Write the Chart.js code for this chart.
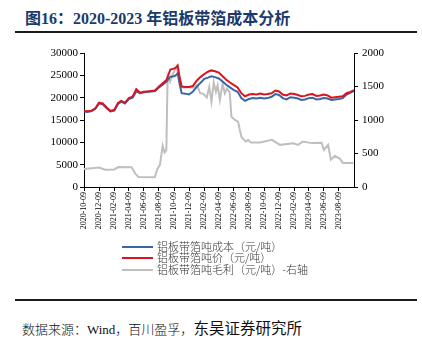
<!DOCTYPE html>
<html><head><meta charset="utf-8">
<script src="https://cdn.jsdelivr.net/npm/chart.js@4"></script>
<style>
body{margin:0;width:422px;height:341px;background:#fff;position:relative;overflow:hidden;font-family:"Liberation Serif","Noto Sans CJK SC",serif;}
#title{position:absolute;left:25px;top:5px;font-size:16px;font-weight:bold;color:#1b3a6b;white-space:nowrap;font-family:"Liberation Serif","Noto Sans CJK SC",serif;}
.rule{position:absolute;left:15px;width:402px;background:#1a1a1a;}
#wrap{position:absolute;left:0;top:0;width:422px;height:240px;}
.leg{position:absolute;left:122px;height:12px;font-size:11px;line-height:12px;color:#333;font-weight:300;white-space:nowrap;font-family:"Noto Sans CJK SC",sans-serif;}
.leg i{position:absolute;left:0;top:5px;width:31px;height:2px;}
.leg span{position:absolute;left:35px;top:-1px;}
#foot{position:absolute;left:22px;top:316px;font-size:13px;color:#111;white-space:nowrap;font-family:"Liberation Serif","Noto Sans CJK SC",serif;}
#foot .s{font-weight:300;}
#foot b{font-weight:normal;font-size:15.5px;font-family:"Noto Sans CJK SC",sans-serif;}
</style></head>
<body>
<div id="title">图16：2020-2023 年铝板带箔成本分析</div>
<div class="rule" style="top:31px;height:2px;"></div>
<div id="wrap"><canvas id="c" width="422" height="240"></canvas></div>
<div class="leg" style="top:241px;"><i style="background:#3b66a6"></i><span>铝板带箔吨成本（元/吨）</span></div>
<div class="leg" style="top:252px;"><i style="background:#d9141e"></i><span>铝板带箔吨价（元/吨）</span></div>
<div class="leg" style="top:264px;"><i style="background:#bfbfbf"></i><span>铝板带箔吨毛利（元/吨）-右轴</span></div>
<div class="rule" style="top:299px;height:2px;"></div>
<div id="foot"><span class="s">数据来源：Wind，百川盈孚，</span><b>东吴证券研究所</b></div>
<script>
const tickLabels = ['2020-10-09','2020-12-09','2021-02-09','2021-04-09','2021-06-09','2021-08-09','2021-10-09','2021-12-09','2022-02-09','2022-04-09','2022-06-09','2022-08-09','2022-10-09','2022-12-09','2023-02-09','2023-04-09','2023-06-09','2023-08-09'];
const priceDates = ['2020-10-09','2020-10-24','2020-11-09','2020-11-24','2020-12-09','2020-12-24','2021-01-09','2021-01-24','2021-02-09','2021-02-24','2021-03-09','2021-03-24','2021-04-09','2021-04-24','2021-05-09','2021-05-24','2021-06-09','2021-06-24','2021-07-09','2021-07-24','2021-08-09','2021-08-24','2021-09-09','2021-09-24','2021-10-09','2021-10-16','2021-10-24','2021-11-01','2021-11-09','2021-11-24','2021-12-09','2021-12-24','2022-01-09','2022-01-24','2022-02-09','2022-02-24','2022-03-09','2022-03-24','2022-04-09','2022-04-24','2022-05-09','2022-05-24','2022-06-09','2022-06-24','2022-07-09','2022-07-24','2022-08-09','2022-08-24','2022-09-09','2022-09-24','2022-10-09','2022-10-24','2022-11-09','2022-11-24','2022-12-09','2022-12-24','2023-01-09','2023-01-24','2023-02-09','2023-02-24','2023-03-09','2023-03-24','2023-04-09','2023-04-24','2023-05-09','2023-05-24','2023-06-09','2023-06-24','2023-07-09','2023-07-24','2023-08-09','2023-08-24','2023-09-09','2023-09-24','2023-10-09'];
const costValues = [16900,16800,17000,17500,18700,18500,17600,16900,17100,18600,19100,18700,19700,20000,21400,21000,21200,21300,21400,21500,22300,22900,23600,24700,24800,25000,25500,23000,
21000,20900,20700,21300,22400,23300,24200,24500,24800,24600,24300,23600,22900,22300,21700,21300,19900,19300,19700,19900,19800,20000,19800,19900,20200,20800,20600,19900,19600,20100,20000,19800,19500,19600,19900,20000,19600,19700,19900,19800,19500,19600,19700,19900,20700,21100,21500];
const priceValues = [17000,16950,17100,17600,18900,18700,17800,17000,17300,18800,19300,18900,19900,20200,21900,21100,21300,21400,21500,21600,22500,23200,24000,26300,26500,26700,27200,24500,
22500,22400,22400,22600,23800,24600,25300,25800,26100,25900,25600,24800,24000,23400,22800,22300,21000,20300,20700,20800,20700,20900,20700,20800,21000,21600,21400,20700,20500,20950,20800,20600,20300,20400,20700,20800,20400,20500,20700,20500,20000,20100,20200,20300,21000,21300,21700];
const profitDates = ['2020-10-09','2020-12-09','2021-01-03','2021-02-09','2021-02-25','2021-04-20','2021-05-05','2021-05-18','2021-07-23','2021-08-02','2021-08-13','2021-08-24','2021-09-01','2021-09-08','2021-09-13','2021-09-23','2021-09-30','2021-10-06','2021-10-20','2021-11-02','2021-11-10','2021-12-26','2022-01-10','2022-01-23','2022-02-05','2022-02-19','2022-03-01','2022-03-10','2022-03-19','2022-03-28','2022-04-04','2022-04-13','2022-04-24','2022-05-03','2022-05-12','2022-05-23','2022-05-30','2022-06-13','2022-06-26','2022-07-03','2022-07-10','2022-07-27','2022-08-06','2022-08-17','2022-09-23','2022-11-10','2022-12-13','2023-02-05','2023-02-24','2023-03-15','2023-04-21','2023-05-30','2023-06-09','2023-06-26','2023-07-07','2023-07-23','2023-08-13','2023-08-25','2023-10-07'];
const profitValues = [267,290,257,262,297,295,200,150,145,267,330,614,515,550,1650,1570,1640,1700,1790,1570,1486,1486,1520,1400,1390,1337,1495,1272,1560,1420,1520,1297,1545,1397,1471,1410,1049,1000,975,851,743,678,700,663,663,703,629,653,629,678,655,660,554,629,406,465,420,357,357];
const seriesNames = ['铝板带箔吨成本（元/吨）','铝板带箔吨价（元/吨）','铝板带箔吨毛利（元/吨）-右轴'];

const base = Date.UTC(2020,9,9);
const toDay = s => (Date.UTC(+s.slice(0,4), +s.slice(5,7)-1, +s.slice(8,10)) - base)/864e5;
const pts = (ds, vs) => ds.map((d,i)=>({x:toDay(d), y:vs[i]}));
const tickFont = {family:'Liberation Serif', size:11};
const plain = v => String(v);
new Chart(document.getElementById('c'), {
  type:'line',
  data:{datasets:[
    {label:seriesNames[0], data:pts(priceDates,costValues), borderColor:'#3b66a6', borderWidth:2, pointRadius:0, yAxisID:'y', order:2},
    {label:seriesNames[1], data:pts(priceDates,priceValues), borderColor:'#d9141e', borderWidth:2, pointRadius:0, yAxisID:'y', order:1},
    {label:seriesNames[2], data:pts(profitDates,profitValues), borderColor:'#bfbfbf', borderWidth:2, pointRadius:0, yAxisID:'y1', order:3}
  ]},
  options:{
    animation:false, responsive:false,
    layout:{padding:{top:53,left:0,right:0,bottom:0}},
    plugins:{legend:{display:false}, tooltip:{enabled:false}},
    scales:{
      x:{type:'linear', min:0, max:toDay('2023-10-09'),
        afterBuildTicks:s=>{s.ticks = tickLabels.map(t=>({value:toDay(t)}));},
        ticks:{autoSkip:false, minRotation:90, maxRotation:90, padding:1, color:'#000', font:{family:'Liberation Serif', size:8},
          callback:(v,i)=>tickLabels[i]},
        grid:{drawOnChartArea:false, drawTicks:true, tickLength:4, color:'#000'},
        border:{color:'#000', width:1},
        afterFit:s=>{s.height=53;}},
      y:{position:'left', min:0, max:30000,
        ticks:{stepSize:5000, padding:2, color:'#000', font:tickFont, callback:plain},
        grid:{drawOnChartArea:false, drawTicks:true, tickLength:4, color:'#000'},
        border:{color:'#000', width:1},
        afterFit:s=>{s.width=84;}},
      y1:{position:'right', min:0, max:2000,
        ticks:{stepSize:500, padding:4, color:'#000', font:tickFont, callback:plain},
        grid:{drawOnChartArea:false, drawTicks:true, tickLength:4, color:'#000'},
        border:{color:'#000', width:1},
        afterFit:s=>{s.width=68;}}
    }
  }
});
</script>
</body></html>
